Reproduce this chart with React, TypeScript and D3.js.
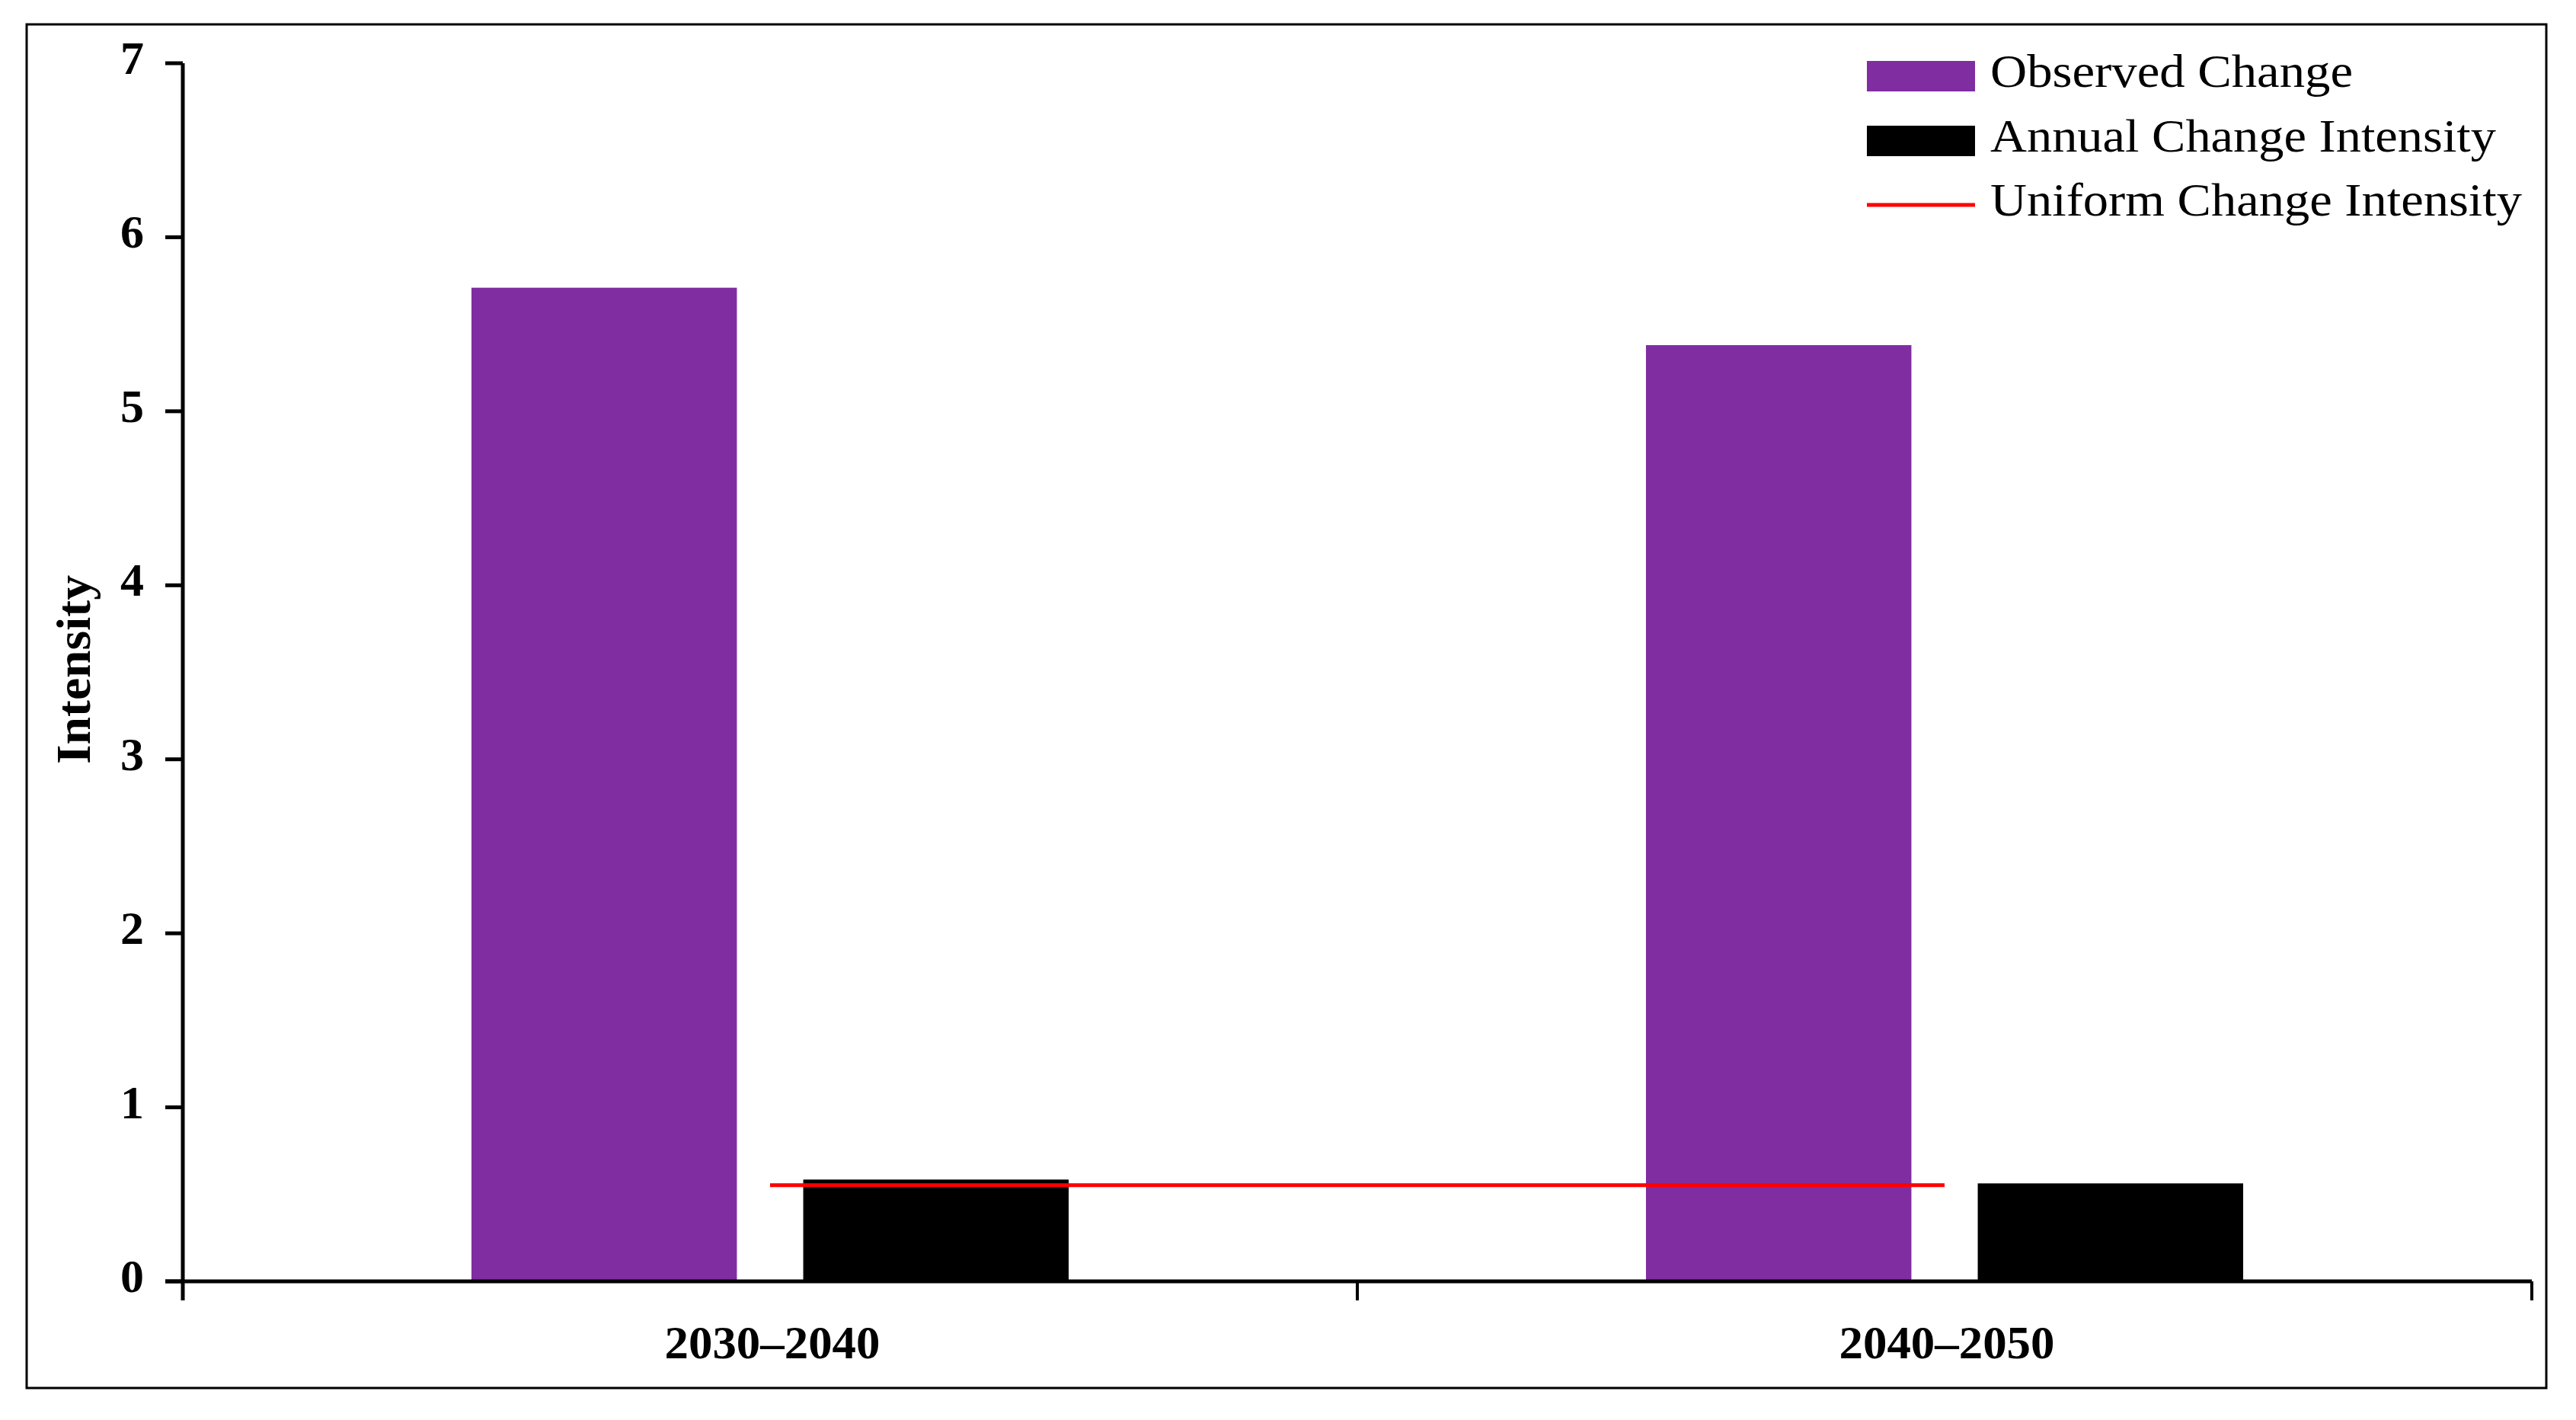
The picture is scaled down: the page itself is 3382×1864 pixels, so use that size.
import React from "react";
import * as d3 from "d3";

const categories = ["2030–2040", "2040–2050"];
const seriesNames = ["Observed Change", "Annual Change Intensity"];
const observedChange = [5.71, 5.38];
const annualChangeIntensity = [0.585, 0.563];
const uniformChangeIntensity = [0.553, 0.553];
const yTicks = [0, 1, 2, 3, 4, 5, 6, 7];
const legendLabels = ["Observed Change", "Annual Change Intensity", "Uniform Change Intensity"];

const W = 3382;
const H = 1864;
const PURPLE = "#7F2DA1";
const FONT = "'Liberation Serif', 'Times New Roman', serif";

export default function App() {
  const y = d3.scaleLinear().domain([0, 7]).range([1682, 83]);
  const x0 = d3.scaleBand<string>().domain(categories).range([240, 3324]).padding(0);
  const x1 = d3
    .scaleBand<string>()
    .domain(seriesNames)
    .range([0, x0.bandwidth()])
    .paddingInner(0.2)
    .paddingOuter(0.87);
  const seriesValues = [observedChange, annualChangeIntensity];
  const seriesColors = [PURPLE, "#000000"];

  const lineGen = d3
    .line<number>()
    .x((_, i) => (x0(categories[i]) as number) + x0.bandwidth() / 2)
    .y((d) => y(d));

  const xTickPositions = [240, ...categories.map((c) => (x0(c) as number) + x0.bandwidth())];

  const legendRows = [
    { label: legendLabels[0], kind: "rect", color: PURPLE, cy: 100, len: 476 },
    { label: legendLabels[1], kind: "rect", color: "#000000", cy: 185, len: 664 },
    { label: legendLabels[2], kind: "line", color: "#FF0000", cy: 269, len: 698 },
  ];

  return (
    <svg
      width={W}
      height={H}
      viewBox={`0 0 ${W} ${H}`}
      style={{ position: "absolute", left: 0, top: 0, background: "#fff" }}
    >
      <rect x={0} y={0} width={W} height={H} fill="#fff" />
      <rect x={35} y={32} width={3308} height={1790} fill="none" stroke="#000" strokeWidth={3} />

      {/* bars */}
      {seriesValues.map((vals, s) =>
        vals.map((v, i) => (
          <rect
            key={`b-${s}-${i}`}
            x={(x0(categories[i]) as number) + (x1(seriesNames[s]) as number)}
            y={y(v)}
            width={x1.bandwidth()}
            height={y(0) - y(v)}
            fill={seriesColors[s]}
          />
        ))
      )}

      {/* uniform line */}
      <path d={lineGen(uniformChangeIntensity) || ""} fill="none" stroke="#FF0000" strokeWidth={5} />

      {/* y axis */}
      <line x1={240} x2={240} y1={y(7)} y2={1707} stroke="#000" strokeWidth={5} />
      {yTicks.map((t) => (
        <g key={`yt-${t}`}>
          <line x1={217} x2={240} y1={y(t)} y2={y(t)} stroke="#000" strokeWidth={5} />
          <text
            x={189}
            y={y(t) + 14}
            textAnchor="end"
            fontFamily={FONT}
            fontWeight="bold"
            fontSize={62}
            fill="#000"
          >
            {t}
          </text>
        </g>
      ))}

      {/* x axis */}
      <line x1={217} x2={3324} y1={y(0)} y2={y(0)} stroke="#000" strokeWidth={5} />
      {xTickPositions.map((p, i) => (
        <line key={`xt-${i}`} x1={p} x2={p} y1={y(0)} y2={1707} stroke="#000" strokeWidth={4} />
      ))}
      {categories.map((c) => (
        <text
          key={`xl-${c}`}
          x={(x0(c) as number) + x0.bandwidth() / 2 + 3}
          y={1783}
          textAnchor="middle"
          fontFamily={FONT}
          fontWeight="bold"
          fontSize={62}
          textLength={283}
          lengthAdjust="spacingAndGlyphs"
          fill="#000"
        >
          {c}
        </text>
      ))}

      {/* y title */}
      <text
        transform={`translate(118, 879) rotate(-90)`}
        textAnchor="middle"
        fontFamily={FONT}
        fontWeight="bold"
        fontSize={64}
        textLength={248}
        lengthAdjust="spacingAndGlyphs"
        fill="#000"
      >
        Intensity
      </text>

      {/* legend */}
      {legendRows.map((r) => (
        <g key={r.label}>
          {r.kind === "rect" ? (
            <rect x={2451} y={r.cy - 20} width={142} height={40} fill={r.color} />
          ) : (
            <line x1={2451} x2={2593} y1={r.cy} y2={r.cy} stroke={r.color} strokeWidth={5} />
          )}
          <text
            x={2613}
            y={r.cy + 14}
            fontFamily={FONT}
            fontSize={62}
            textLength={r.len}
            lengthAdjust="spacingAndGlyphs"
            fill="#000"
          >
            {r.label}
          </text>
        </g>
      ))}
    </svg>
  );
}
